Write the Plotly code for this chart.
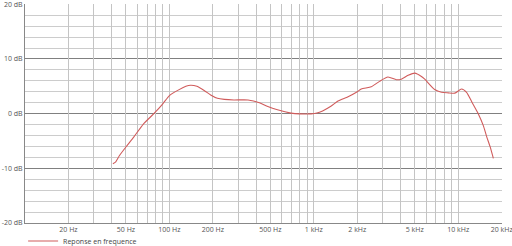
import plotly.graph_objects as go
import numpy as np

freq_hz = [40.6, 42.5, 45, 50, 56.6, 66, 78, 90, 100, 115, 130, 140, 155, 175, 193, 215,
           240, 280, 350, 420, 480, 560, 695, 800, 957, 1050, 1150, 1320, 1470, 1700,
           2000, 2130, 2500, 2850, 3260, 3730, 4030, 4500, 5000, 5560, 5860, 6870, 7650,
           8500, 9470, 10540, 11420, 12500, 13780, 14920, 15730, 16600, 17510]
level_db = [-9.15, -8.8, -7.7, -6.1, -4.3, -1.9, 0.0, 1.8, 3.3, 4.3, 5.0, 5.2, 5.0, 4.2, 3.4, 2.8,
            2.6, 2.5, 2.5, 2.0, 1.3, 0.7, 0.1, -0.05, -0.05, 0.1, 0.5, 1.4, 2.3, 3.0,
            4.0, 4.5, 4.9, 5.9, 6.7, 6.2, 6.3, 7.0, 7.4, 6.8, 6.3, 4.4, 3.9,
            3.8, 3.75, 4.5, 3.9, 2.0, -0.05, -2.2, -4.2, -6.0, -8.2]

x_tick_vals = [20, 50, 100, 200, 500, 1000, 2000, 5000, 10000, 20000]
x_tick_text = ["20 Hz", "50 Hz", "100 Hz", "200 Hz", "500 Hz", "1 kHz", "2 kHz", "5 kHz", "10 kHz", "20 kHz"]
x_grid_vals = [20, 30, 40, 50, 60, 70, 80, 90, 100, 200, 300, 400, 500, 600, 700, 800, 900,
               1000, 2000, 3000, 4000, 5000, 6000, 7000, 8000, 9000, 10000, 20000]
y_tick_vals = [-20, -10, 0, 10, 20]
y_tick_text = ["-20 dB", "-10 dB", "0 dB", "10 dB", "20 dB"]
series_name = "Reponse en frequence"

FONT = "Open Sans"
fig = go.Figure()
fig.add_trace(go.Scatter(x=freq_hz, y=level_db, mode="lines", name=series_name,
                         line=dict(color="#d05c5c", width=1.1, shape="spline", smoothing=0.6)))
# invisible trace for secondary grid axis
fig.add_trace(go.Scatter(x=[20, 20000], y=[0, 0], xaxis="x2", mode="lines",
                         line=dict(width=0), showlegend=False, hoverinfo="skip"))

xr = [1, np.log10(20000) + 0.002]
fig.update_layout(
    width=512, height=246,
    margin=dict(l=25, r=10, t=4, b=23, autoexpand=False),
    paper_bgcolor="white", plot_bgcolor="white",
    font=dict(family=FONT, size=7, color="#555555"),
    showlegend=True,
    legend=dict(orientation="h", x=-0.004, xanchor="left", xref="paper",
                yref="paper", y=-0.082, yanchor="middle",
                font=dict(size=7, color="#444444"), itemwidth=30,
                bgcolor="rgba(0,0,0,0)"),
    xaxis=dict(type="log", range=xr, tickvals=x_tick_vals, ticktext=x_tick_text,
               showgrid=False, zeroline=False, showline=True, linecolor="#888888",
               linewidth=1, ticks="", tickfont=dict(size=7, color="#555555"),
               ticklabeloverflow="allow", layer="above traces"),
    xaxis2=dict(type="log", range=xr, overlaying="x", tickvals=x_grid_vals,
                showticklabels=False, showgrid=True, gridcolor="#c4c4c4", gridwidth=1,
                zeroline=False, ticks="", layer="below traces"),
    yaxis=dict(range=[-20, 20.05], tickvals=y_tick_vals, ticktext=y_tick_text,
               showgrid=True, gridcolor="#808080", gridwidth=1, zeroline=False,
               showline=True, linecolor="#888888", linewidth=1, ticks="",
               ticklabeloverflow="allow",
               tickfont=dict(size=7, color="#555555"),
               minor=dict(dtick=2, showgrid=True, gridcolor="#cccccc", gridwidth=1)),
)
fig.write_html("out.html")
